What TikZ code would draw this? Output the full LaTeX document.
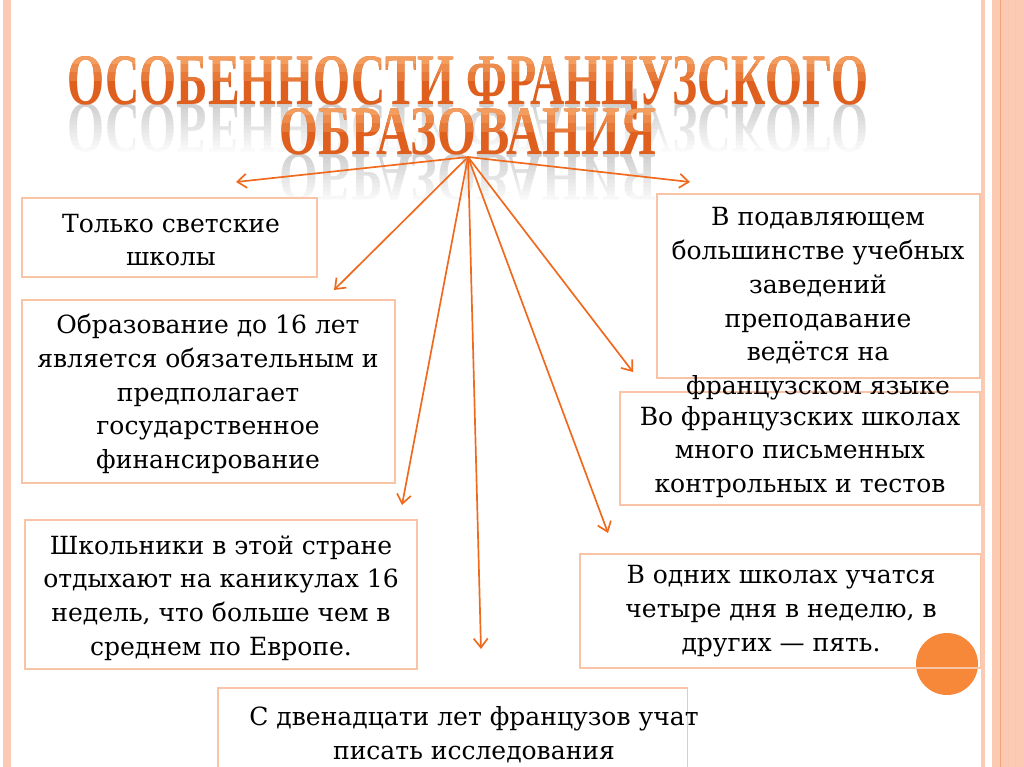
\documentclass[tikz,border=0pt]{standalone}
\usepackage{fontspec}
\setmainfont{DejaVu Serif}
\newfontfamily\titlefont{Liberation Serif}[BoldFont={Liberation Serif Bold}]
\usetikzlibrary{arrows.meta}
\definecolor{boxline}{HTML}{F9C4A6}
\definecolor{arrowc}{HTML}{F06A1E}
\definecolor{titlec}{HTML}{DE5F1E}
\definecolor{titlelight}{HTML}{F6A86A}
\definecolor{stripe}{HTML}{FCC9B3}
\definecolor{stripedark}{HTML}{F2A27C}
\definecolor{dotc}{HTML}{F7883A}
\newcommand{\titleline}[3]{\resizebox{#1}{#2}{\titlefont\bfseries #3}}

\begin{document}
\begin{tikzpicture}[x=0.025cm,y=-0.025cm]
\tikzset{box/.style={draw=boxline, line width=0.8pt, inner sep=0pt}}
\tikzset{txt/.style={align=center, font=\fontsize{17.8}{24}\selectfont, inner sep=0pt}}
\tikzset{link/.style={draw=arrowc, line width=1.2pt, ->}}
\tikzset{>={Straight Barb[length=6.5pt,width=10pt]}}
\tikzset{glint/.style={anchor=base, inner sep=0pt}}
\useasboundingbox (0,0) rectangle (1024,767);
\fill[stripe] (3,0) rectangle (11,767);
\fill[stripe] (981,0) rectangle (985,767);
\fill[stripe] (992,0) rectangle (1024,767);
\draw[stripedark, line width=0.6pt] (1000,0) -- (1000,767);
\draw[stripedark!60, line width=0.6pt] (1008,0) -- (1008,767);
\draw[stripedark!60, line width=0.6pt] (1015,0) -- (1015,767);

\node[glint, text=gray, opacity=0.4] (refl1) at (468,105)
  {\scalebox{1}[-1]{\titleline{20cm}{1.2cm}{ОСОБЕННОСТИ ФРАНЦУЗСКОГО}}};
\foreach \i in {0,...,11}
  \fill[white, opacity=0.1+0.075*\i] (40,105+4*\i) rectangle (900,109+4*\i);
\node[glint, text=titlec] (title1) at (468,105)
  {\titleline{20cm}{1.2cm}{ОСОБЕННОСТИ ФРАНЦУЗСКОГО}};
\foreach \i/\c in {0/85,1/60,2/35}{
  \begin{scope}
    \clip (40,57+8*\i) rectangle (900,65+8*\i);
    \node[glint, text=titlelight!\c!titlec] (glow1) at (468,105)
      {\titleline{20cm}{1.2cm}{ОСОБЕННОСТИ ФРАНЦУЗСКОГО}};
  \end{scope}
}
\node[glint, text=gray, opacity=0.4] (refl2) at (468,155)
  {\scalebox{1}[-1]{\titleline{9.4cm}{1.15cm}{ОБРАЗОВАНИЯ}}};
\foreach \i in {0,...,11}
  \fill[white, opacity=0.1+0.075*\i] (250,155+4*\i) rectangle (700,159+4*\i);
\node[glint, text=titlec] (title2) at (468,155)
  {\titleline{9.4cm}{1.15cm}{ОБРАЗОВАНИЯ}};
\foreach \i/\c in {0/85,1/60,2/35}{
  \begin{scope}
    \clip (250,108+8*\i) rectangle (700,116+8*\i);
    \node[glint, text=titlelight!\c!titlec] (glow2) at (468,155)
      {\titleline{9.4cm}{1.15cm}{ОБРАЗОВАНИЯ}};
  \end{scope}
}

\fill[dotc] (947,664) circle (31);

\node[box, minimum width=7.375cm, minimum height=1.975cm] (secular) at (169.5,237.5) {};
\node[box, minimum width=9.325cm, minimum height=4.575cm] (compulsory) at (208.5,391.5) {};
\node[box, minimum width=9.8cm, minimum height=3.725cm] (holidays) at (221,594.5) {};
\node[box, minimum width=11.725cm, minimum height=2.45cm] (research) at (452.5,737) {};
\node[box, minimum width=8.075cm, minimum height=4.6cm] (language) at (818.5,286) {};
\node[box, minimum width=9cm, minimum height=2.825cm] (tests) at (800,448.5) {};
\node[box, minimum width=10cm, minimum height=2.85cm] (week) at (780,611) {};

\node[txt] (secular text) at (171,240) {Только светские\\школы};
\node[txt] (compulsory text) at (208,394) {Образование до 16 лет\\является обязательным и\\предполагает\\государственное\\финансирование};
\node[txt] (holidays text) at (221,598) {Школьники в этой стране\\отдыхают на каникулах 16\\недель, что больше чем в\\среднем по Европе.};
\node[txt] (research text) at (474,735) {С двенадцати лет французов учат\\писать исследования};
\node[txt] (language text) at (818,304) {В подавляющем\\большинстве учебных\\заведений\\преподавание\\ведётся на\\французском языке};
\node[txt] (tests text) at (800,452) {Во французских школах\\много письменных\\контрольных и тестов};
\node[txt] (week text) at (781,611) {В одних школах учатся\\четыре дня в неделю, в\\других — пять.};

\coordinate (hub) at (468,157);
\coordinate (tip1) at (236,182);
\coordinate (tip2) at (690,182);
\coordinate (tip3) at (334,290);
\coordinate (tip4) at (402,505);
\coordinate (tip5) at (481,649);
\coordinate (tip6) at (608,533);
\coordinate (tip7) at (633,372);
\foreach \t in {tip1,tip2,tip3,tip4,tip5,tip6,tip7}
  \draw[link] (hub) -- (\t);
\end{tikzpicture}
\end{document}
